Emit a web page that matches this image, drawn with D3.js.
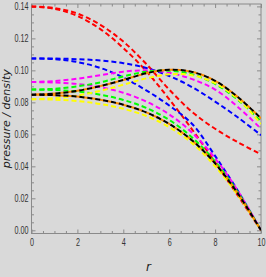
<!DOCTYPE html>
<html>
<head>
<meta charset="utf-8">
<script src="https://cdn.jsdelivr.net/npm/d3@7"></script>
<style>
  html, body { margin: 0; padding: 0; background: #d9d9d9; }
  svg { display: block; }
</style>
</head>
<body>
<div id="chart"></div>
<script>
  var width = 266,
      height = 277,
      margin = {top: 4, right: 5, bottom: 43.5, left: 31.5};

  // radius values where the curves were read
  var rVals = [0, 1, 2, 3, 4, 5, 6, 7, 8, 9, 10];

  // curves that keep a finite value at the edge
  var redUpper     = [0.1400, 0.1390, 0.1355, 0.1285, 0.1180, 0.1040, 0.0880, 0.0740, 0.0635, 0.0550, 0.0475];
  var blueUpper    = [0.1075, 0.1074, 0.1070, 0.1062, 0.1045, 0.1015, 0.0965, 0.0895, 0.0805, 0.0705, 0.0595];
  var magentaUpper = [0.0927, 0.0933, 0.0948, 0.0970, 0.0992, 0.1000, 0.0985, 0.0945, 0.0880, 0.0770, 0.0635];
  var greenUpper   = [0.0880, 0.0885, 0.0900, 0.0925, 0.0962, 0.0992, 0.0998, 0.0975, 0.0915, 0.0815, 0.0680];
  var yellowUpper  = [0.0820, 0.0826, 0.0843, 0.0872, 0.0910, 0.0950, 0.0975, 0.0970, 0.0920, 0.0820, 0.0665];
  var blackUpper   = [0.0848, 0.0855, 0.0872, 0.0902, 0.0940, 0.0982, 0.1004, 0.0990, 0.0935, 0.0832, 0.0700];

  // curves that fall to zero at the edge
  var redLower     = [0.1400, 0.1385, 0.1340, 0.1258, 0.1140, 0.0995, 0.0820, 0.0630, 0.0425, 0.0215, 0.0];
  var blueLower    = [0.1075, 0.1070, 0.1052, 0.1015, 0.0955, 0.0875, 0.0780, 0.0665, 0.0465, 0.0245, 0.0];
  var magentaLower = [0.0927, 0.0924, 0.0915, 0.0895, 0.0860, 0.0805, 0.0725, 0.0610, 0.0450, 0.0245, 0.0];
  var greenLower   = [0.0880, 0.0877, 0.0868, 0.0848, 0.0815, 0.0765, 0.0690, 0.0580, 0.0430, 0.0235, 0.0];
  var yellowLower  = [0.0820, 0.0817, 0.0808, 0.0790, 0.0760, 0.0715, 0.0645, 0.0545, 0.0400, 0.0218, 0.0];
  var blackLower   = [0.0848, 0.0845, 0.0836, 0.0816, 0.0785, 0.0737, 0.0665, 0.0562, 0.0418, 0.0228, 0.0];

  var xTicks = [0, 2, 4, 6, 8, 10];
  var yTicks = [0, 0.02, 0.04, 0.06, 0.08, 0.10, 0.12, 0.14];

  // drawing order, last on top
  var series = [
    {values: redUpper, color: "#ff0000"},
    {values: redLower, color: "#ff0000"},
    {values: blueUpper, color: "#0000ff"},
    {values: blueLower, color: "#0000ff"},
    {values: magentaUpper, color: "#ff00ff"},
    {values: magentaLower, color: "#ff00ff"},
    {values: greenUpper, color: "#00ff00"},
    {values: greenLower, color: "#00ff00"},
    {values: yellowUpper, color: "#ffff00"},
    {values: yellowLower, color: "#ffff00"},
    {values: blackUpper, color: "#ff8c00", offset: 4},
    {values: blackLower, color: "#ff8c00", offset: 4},
    {values: blackUpper, color: "#000000"},
    {values: blackLower, color: "#000000"}
  ];

  var innerW = width - margin.left - margin.right,
      innerH = height - margin.top - margin.bottom;

  var svg = d3.select("#chart").append("svg")
    .attr("width", width)
    .attr("height", height)
    .style("background", "#d9d9d9");

  var x = d3.scaleLinear().domain([0, 10]).range([margin.left, margin.left + innerW]);
  var y = d3.scaleLinear().domain([-0.002, 0.1415]).range([margin.top + innerH, margin.top]);

  var frameColor = "#8a8a8a",
      squeeze = 0.72,
      labelFont = "'Liberation Sans', sans-serif";

  // minor ticks
  var xMinor = d3.range(0, 10.001, 0.5).filter(function(v){ return xTicks.indexOf(v) < 0; });
  var yMinor = d3.range(0, 0.1401, 0.005).map(function(v){ return +v.toFixed(3); })
    .filter(function(v){ return yTicks.indexOf(v) < 0; });

  function styleAxis(g) {
    g.select(".domain").remove();
    g.selectAll("line").attr("stroke", frameColor);
    g.selectAll("text")
      .attr("fill", "#333")
      .style("font", "10px " + labelFont)
      .attr("x", function(){ return (+d3.select(this).attr("x") || 0) / squeeze; })
      .attr("transform", "scale(" + squeeze + ",1)");
  }

  svg.append("g")
    .attr("transform", "translate(0," + (margin.top + innerH) + ")")
    .call(d3.axisBottom(x).tickValues(xTicks).tickSizeInner(-4).tickSizeOuter(0).tickPadding(5)
      .tickFormat(d3.format("d")))
    .call(styleAxis);
  svg.append("g")
    .attr("transform", "translate(0," + (margin.top + innerH) + ")")
    .call(d3.axisBottom(x).tickValues(xMinor).tickSizeInner(-2.5).tickSizeOuter(0).tickFormat(""))
    .call(styleAxis);
  svg.append("g")
    .attr("transform", "translate(0," + margin.top + ")")
    .call(d3.axisTop(x).tickValues(xTicks).tickSizeInner(-4).tickSizeOuter(0).tickFormat(""))
    .call(styleAxis);
  svg.append("g")
    .attr("transform", "translate(0," + margin.top + ")")
    .call(d3.axisTop(x).tickValues(xMinor).tickSizeInner(-2.5).tickSizeOuter(0).tickFormat(""))
    .call(styleAxis);

  svg.append("g")
    .attr("transform", "translate(" + margin.left + ",0)")
    .call(d3.axisLeft(y).tickValues(yTicks).tickSizeInner(-4).tickSizeOuter(0).tickPadding(3)
      .tickFormat(d3.format(".2f")))
    .call(styleAxis);
  svg.append("g")
    .attr("transform", "translate(" + margin.left + ",0)")
    .call(d3.axisLeft(y).tickValues(yMinor).tickSizeInner(-2.5).tickSizeOuter(0).tickFormat(""))
    .call(styleAxis);
  svg.append("g")
    .attr("transform", "translate(" + (margin.left + innerW) + ",0)")
    .call(d3.axisRight(y).tickValues(yTicks).tickSizeInner(-4).tickSizeOuter(0).tickFormat(""))
    .call(styleAxis);
  svg.append("g")
    .attr("transform", "translate(" + (margin.left + innerW) + ",0)")
    .call(d3.axisRight(y).tickValues(yMinor).tickSizeInner(-2.5).tickSizeOuter(0).tickFormat(""))
    .call(styleAxis);

  // frame
  svg.append("rect")
    .attr("x", margin.left)
    .attr("y", margin.top)
    .attr("width", innerW)
    .attr("height", innerH)
    .attr("fill", "none")
    .attr("stroke", frameColor)
    .attr("stroke-width", 1);

  var line = d3.line()
    .x(function(d, i){ return x(rVals[i]); })
    .y(function(d){ return y(d); })
    .curve(d3.curveCatmullRom);

  var plot = svg.append("g");
  plot.append("clipPath").attr("id", "clip")
    .append("rect")
    .attr("x", margin.left).attr("y", margin.top - 2)
    .attr("width", innerW).attr("height", innerH + 2);

  plot.selectAll("path.curve")
    .data(series)
    .enter()
    .append("path")
    .attr("class", "curve")
    .attr("clip-path", "url(#clip)")
    .attr("d", function(d){ return line(d.values); })
    .attr("fill", "none")
    .attr("stroke", function(d){ return d.color; })
    .attr("stroke-width", 2)
    .style("stroke-dasharray", "5, 3")
    .style("stroke-dashoffset", function(d){ return d.offset || 0; });

  // axis titles
  svg.append("text")
    .attr("transform", "translate(10," + (margin.top + innerH / 2) + ") rotate(-90)")
    .attr("text-anchor", "middle")
    .style("font", "italic 11px 'DejaVu Sans', sans-serif")
    .attr("fill", "#222")
    .text("pressure / density");

  svg.append("text")
    .attr("x", x(5.1))
    .attr("y", 271)
    .attr("text-anchor", "middle")
    .style("font", "italic 12px 'DejaVu Sans', sans-serif")
    .attr("fill", "#222")
    .text("r");
</script>
</body>
</html>
